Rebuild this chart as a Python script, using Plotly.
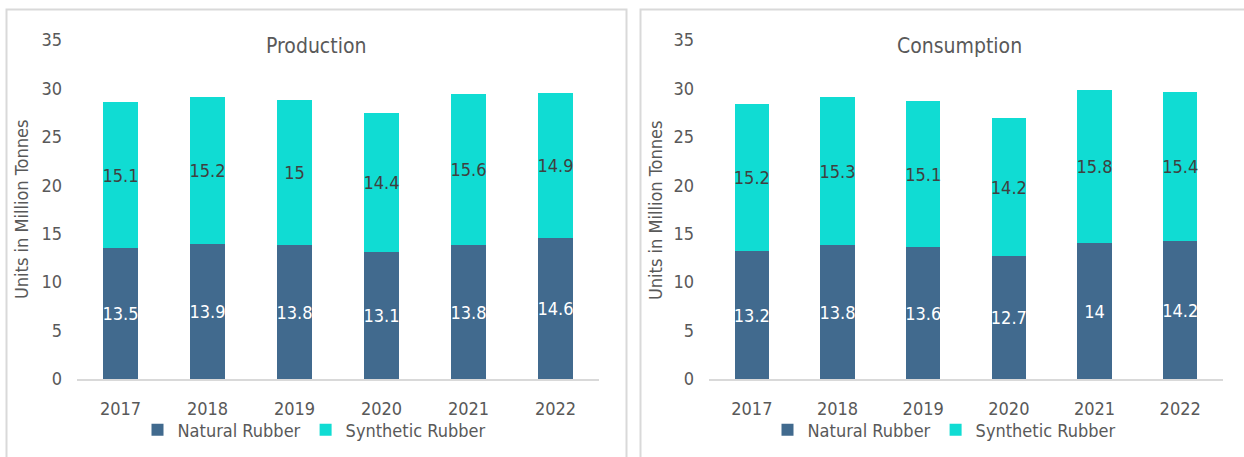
import plotly.graph_objects as go

# Global natural vs synthetic rubber, million tonnes
years = ["2017", "2018", "2019", "2020", "2021", "2022"]
prod_natural = [13.5, 13.9, 13.8, 13.1, 13.8, 14.6]
prod_synthetic = [15.1, 15.2, 15.0, 14.4, 15.6, 14.9]
cons_natural = [13.2, 13.8, 13.6, 12.7, 14.0, 14.2]
cons_synthetic = [15.2, 15.3, 15.1, 14.2, 15.8, 15.4]
y_ticks = [0, 5, 10, 15, 20, 25, 30, 35]

W, H = 1244, 457
NAT_COLOR = "#416A8E"
SYN_COLOR = "#10DCD3"
TEXT = "#595959"
FONT = "DejaVu Sans Condensed, DejaVu Sans, sans-serif"
FS = 18


def px_x(v):
    return v / W


def px_y(v):
    return 1 - v / H


def fmt(v):
    return f"{v:g}"


fig = go.Figure()

panels = [
    ("x", "y", "legend", prod_natural, prod_synthetic),
    ("x2", "y2", "legend2", cons_natural, cons_synthetic),
]
for xa, ya, lg, nat, syn in panels:
    fig.add_trace(go.Bar(
        x=years, y=nat, name="Natural Rubber", xaxis=xa, yaxis=ya, legend=lg,
        marker=dict(color=NAT_COLOR, line=dict(width=0)),
        text=[fmt(v) for v in nat], textposition="inside",
        insidetextanchor="middle", textangle=0,
        textfont=dict(color="white", size=FS, family=FONT),
        constraintext="none", cliponaxis=False,
    ))
    fig.add_trace(go.Bar(
        x=years, y=syn, name="Synthetic Rubber", xaxis=xa, yaxis=ya, legend=lg,
        marker=dict(color=SYN_COLOR, line=dict(width=0)),
        text=[fmt(v) for v in syn], textposition="inside",
        insidetextanchor="middle", textangle=0,
        textfont=dict(color="#404040", size=FS, family=FONT),
        constraintext="none", cliponaxis=False,
    ))

y_top, y_zero = 40, 379
xaxis_common = dict(
    showgrid=False, showline=True, linecolor="#D9D9D9", linewidth=2,
    ticks="", tickfont=dict(size=FS, color=TEXT, family=FONT),
    ticklabelstandoff=12, fixedrange=True,
)
yaxis_common = dict(
    range=[0, 35], tickvals=y_ticks, showgrid=False, showline=False,
    zeroline=False, ticks="", tickfont=dict(size=FS, color=TEXT, family=FONT),
    ticklabelstandoff=14, fixedrange=True,
)

legend_common = dict(
    orientation="h", yanchor="middle", xanchor="center",
    font=dict(size=FS, color=TEXT, family=FONT), itemwidth=30,
    traceorder="normal", bgcolor="rgba(0,0,0,0)",
)

fig.update_layout(
    width=W, height=H,
    margin=dict(l=0, r=0, t=0, b=0, autoexpand=False),
    paper_bgcolor="white", plot_bgcolor="white",
    barmode="stack", bargap=0.6,
    font=dict(family=FONT, color=TEXT),
    xaxis=dict(domain=[px_x(77), px_x(599)], anchor="y", **xaxis_common),
    yaxis=dict(domain=[px_y(y_zero), px_y(y_top)], anchor="x", **yaxis_common),
    xaxis2=dict(domain=[px_x(709), px_x(1223)], anchor="y2", **xaxis_common),
    yaxis2=dict(domain=[px_y(y_zero), px_y(y_top)], anchor="x2", **yaxis_common),
    legend=dict(x=px_x(314), y=px_y(430), **legend_common),
    legend2=dict(x=px_x(944), y=px_y(430), **legend_common),
    showlegend=True,
)

# Panel titles and axis titles
for cx, title in [(316, "Production"), (960, "Consumption")]:
    fig.add_annotation(
        x=px_x(cx), y=px_y(46), xref="paper", yref="paper",
        text=title, showarrow=False, xanchor="center", yanchor="middle",
        font=dict(size=21, color=TEXT, family=FONT),
    )
for cx in [22, 656]:
    fig.add_annotation(
        x=px_x(cx), y=px_y(210), xref="paper", yref="paper",
        text="Units in Million Tonnes", showarrow=False, textangle=-90,
        xanchor="center", yanchor="middle",
        font=dict(size=FS, color=TEXT, family=FONT),
    )

# Light frames around each panel
for x0, x1 in [(6.5, 626.5), (640.5, 1250)]:
    fig.add_shape(
        type="rect", xref="paper", yref="paper",
        x0=px_x(x0), x1=px_x(x1), y0=px_y(470), y1=px_y(9.5),
        line=dict(color="#D9D9D9", width=2), fillcolor="rgba(0,0,0,0)", layer="below",
    )

fig.write_html("out.html")
